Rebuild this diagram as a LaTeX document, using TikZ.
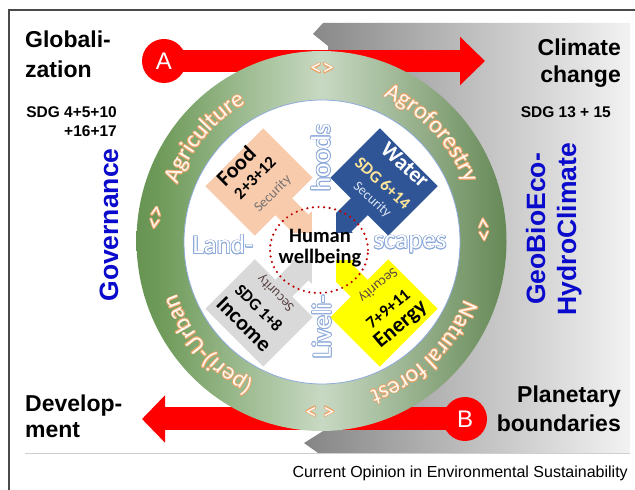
\documentclass[tikz,border=0pt]{standalone}
\usepackage{fontspec}
\usepackage[copies]{contour}
\usetikzlibrary{decorations.text,arrows.meta}
\setmainfont{Liberation Sans}
\newfontfamily\hv{Liberation Sans}
\newfontfamily\cb{Carlito}

\definecolor{arrowred}{HTML}{FF0000}
\definecolor{labelblue}{HTML}{0A0ACC}
\definecolor{ringdark}{HTML}{4A7C36}
\definecolor{ringmidL}{HTML}{6E9A59}
\definecolor{ringlight}{HTML}{C8D9C3}
\definecolor{ringmidR}{HTML}{6A8C5B}
\definecolor{ringdarkR}{HTML}{3A5E2C}
\definecolor{foodc}{HTML}{F8CBAD}
\definecolor{waterc}{HTML}{2F5597}
\definecolor{incomec}{HTML}{D9D9D9}
\definecolor{energyc}{HTML}{FFFF00}
\definecolor{outblue}{HTML}{8EAADB}
\definecolor{ringorange}{HTML}{E9A46A}
\definecolor{ringcream}{HTML}{FFF8EE}
\definecolor{dotred}{HTML}{C00000}
\definecolor{secgray}{HTML}{767171}
\definecolor{secbrown}{HTML}{5B4545}
\definecolor{sdgyellow}{HTML}{FFE699}
\definecolor{seclblue}{HTML}{DAE3F3}
\definecolor{framegray}{HTML}{4A4A4A}
\definecolor{rulegray}{HTML}{CFCFCF}
\definecolor{paneldark}{HTML}{858585}
\definecolor{panelmid}{HTML}{BDBDBD}
\definecolor{panellight}{HTML}{F2F2F2}

\pgfdeclarehorizontalshading{ringshade}{100bp}{color(0bp)=(ringdark); color(12bp)=(ringdark);
  color(28bp)=(ringmidL); color(50bp)=(ringlight); color(74bp)=(ringmidR); color(88bp)=(ringdarkR);
  color(100bp)=(ringdarkR)}

% letters on the green ring: cream with an orange rim
\newcommand\ringfont{\cb\fontsize{24}{24}\selectfont}
\newcommand\ringchar[1]{{\ringfont\color{ringcream}\contourlength{0.7pt}\contour{ringorange}{#1}}}
% hollow blue-rimmed words around the centre
\newcommand\hollow[1]{{\color{white}\contourlength{0.8pt}\contour{outblue}{#1}}}

\tikzset{
  callout/.pic={\path[pic actions] (-35,-41) -- (35,-41) -- (35,-12) -- (58,-12) -- (58,-26)
      -- (84,0) -- (58,26) -- (58,12) -- (35,12) -- (35,41) -- (-35,41) -- cycle;},
  biglabel/.style={font=\hv\bfseries\fontsize{23}{23}\selectfont, inner sep=0},
  sdglabel/.style={font=\hv\bfseries\fontsize{15.5}{15.5}\selectfont, inner sep=0},
  vlabel/.style={font=\hv\bfseries\fontsize{26.5}{26.5}\selectfont, text=labelblue, rotate=90, inner sep=0, anchor=base},
  blk/.style={inner sep=0, anchor=center},
  blkbig/.style={blk, font=\cb\bfseries\fontsize{22}{22}\selectfont},
  blkmid/.style={blk, font=\cb\bfseries\fontsize{17}{17}\selectfont},
  blksec/.style={blk, font=\cb\fontsize{14}{14}\selectfont},
  hollowword/.style={inner sep=0, font=\cb\fontsize{27}{27}\selectfont},
  marker/.style={inner sep=0},
  ringtext/.style 2 args={decorate, decoration={text along path,
      text={|\ringfont\color{#2}|#1}, text align=center}},
  badge/.style={circle, fill=arrowred, minimum size=44pt, inner sep=0, text=white,
      font=\hv\fontsize{24}{24}\selectfont},
}

% one ring word: orange copies around the spot, then the cream word on top
\newcommand\ringword[3]{%
  \foreach \dx/\dy in {0.75/0, -0.75/0, 0/0.75, 0/-0.75, 0.53/0.53, 0.53/-0.53, -0.53/0.53, -0.53/-0.53}{
    \path[ringtext={#1}{ringorange}, shift={(\dx,\dy)}] (321.5,249) ++(#2:154 and 158)
      arc[start angle=#2, end angle=#3, x radius=154, y radius=158];
  }
  \path[ringtext={#1}{ringcream}] (321.5,249) ++(#2:154 and 158)
    arc[start angle=#2, end angle=#3, x radius=154, y radius=158];
}

\begin{document}
\begin{tikzpicture}[x=1pt,y=1pt]
\useasboundingbox (0,0) rectangle (635,490);
\fill[white] (0,0) rectangle (635,490);

% grey panel on the right
\shade[left color=paneldark, right color=panellight, middle color=panelmid]
  (323,467) -- (630,467) -- (630,37) -- (318,37) -- (304,47) -- (328,62) -- (328,444) -- (313,456) -- cycle;

% frame and rule
\draw[framegray, line width=1.3pt] (9,0) -- (9,480) -- (635,480);
\draw[rulegray, line width=0.8pt] (25,37) -- (630,37);

% red arrows A and B
\coordinate (Ac) at (164,429);
\coordinate (Aend) at (485,429);
\draw[arrowred, line width=22pt, -{Triangle[length=25pt,width=47pt]}] (Ac) -- (Aend);
\node[badge] (A) at (Ac) {A};
\coordinate (Bc) at (465,71);
\coordinate (Bend) at (142,71);
\draw[arrowred, line width=23pt, -{Triangle[length=23pt,width=46pt]}] (Bc) -- (Bend);
\node[badge] (B) at (Bc) {B};

% green ring and white inner disc
\shade[shading=ringshade] (321.5,249) ellipse [x radius=185, y radius=190];
\fill[white] (322,248) ellipse [x radius=138, y radius=142];
\draw[outblue, line width=0.8pt] (322,248) ellipse [x radius=138, y radius=142];

% the four security blocks
\pic[fill=foodc, rotate=-45] (food) at (259,308) {callout};
\pic[fill=waterc, rotate=-135] (water) at (384,308) {callout};
\pic[fill=incomec, rotate=45] (income) at (259,177) {callout};
\pic[fill=energyc, rotate=135] (energy) at (384,177) {callout};

% white cross between the block tips
\fill[white] (312,190) rectangle (336,295);
\fill[white] (270,230) rectangle (375,257);

% block texts
\node[blkbig, rotate=45] (foodA) at (236,324) {Food};
\node[blkmid, rotate=45] (foodB) at (255,312) {2+3+12};
\node[blksec, rotate=45, text=secgray] (foodC) at (273,296) {Security};

\node[blkbig, rotate=-42, text=white] (waterA) at (405,325) {Water};
\node[blkmid, rotate=-42, text=sdgyellow] (waterB) at (383,307) {SDG 6+14};
\node[blksec, rotate=-42, text=seclblue] (waterC) at (372,290) {Security};

\node[blksec, rotate=135, text=secbrown] (incomeC) at (276,197) {Security};
\node[blkmid, rotate=-45] (incomeB) at (259,182) {SDG 1+8};
\node[blkbig, rotate=-45] (incomeA) at (244,166) {Income};

\node[blksec, rotate=220, text=secbrown] (energyC) at (378,205) {Security};
\node[blkmid, rotate=40] (energyB) at (388,181) {7+9+11};
\node[blkbig, rotate=40] (energyA) at (401,165) {Energy};

% Land-scapes / Liveli-hoods
\node[hollowword] (land) at (223,245) {\hollow{Land-}};
\node[hollowword] (scapes) at (410,245) {\hollow{scapes}};
\node[hollowword, rotate=90] (hoods) at (321,332) {\hollow{hoods}};
\node[hollowword, rotate=90] (liveli) at (322,163) {\hollow{Liveli-}};

% human wellbeing
\draw[dotred, line width=2.4pt, dash pattern=on 0pt off 5.6pt, line cap=round]
  (319,240) ellipse [x radius=49, y radius=43];
\node[inner sep=0, anchor=base, font=\cb\bfseries\fontsize{20.5}{20.5}\selectfont] (hw1) at (320,247) {Human};
\node[inner sep=0, anchor=base, font=\cb\bfseries\fontsize{20.5}{20.5}\selectfont] (hw2) at (320,226) {wellbeing};

% words along the ring
\ringword{Agriculture}{182}{96}
\ringword{Agroforestry}{88}{0}
\ringword{(peri)-Urban}{266}{178}
\ringword{Natural forest}{358}{268}

\node[marker] (mtop) at (322,420) {\ringchar{<>}};
\node[marker, rotate=82] (mleft) at (157,272) {\ringchar{<>}};
\node[marker, rotate=-86] (mright) at (482,260) {\ringchar{<>}};
\node[marker, rotate=180] (mbot) at (320,80) {\ringchar{< >}};

% outer labels
\node[biglabel, anchor=base west] (glob1) at (25,442) {Globali-};
\node[biglabel, anchor=base west] (glob2) at (25,412) {zation};
\node[sdglabel, anchor=base east] (sdgl1) at (117,372) {SDG 4+5+10};
\node[sdglabel, anchor=base east] (sdgl2) at (117,353) {+16+17};
\node[vlabel] (gov) at (118,265) {Governance};

\node[biglabel, anchor=base east] (clim1) at (621,434) {Climate};
\node[biglabel, anchor=base east] (clim2) at (621,407) {change};
\node[sdglabel, anchor=base east] (sdgr) at (611,372) {SDG 13 + 15};
\node[vlabel] (geo1) at (545,261) {GeoBioEco-};
\node[vlabel] (geo2) at (576,261) {HydroClimate};

\node[biglabel, anchor=base west] (dev1) at (25,78) {Develop-};
\node[biglabel, anchor=base west] (dev2) at (25,52) {ment};
\node[biglabel, anchor=base east] (plan1) at (621,87) {Planetary};
\node[biglabel, anchor=base east] (plan2) at (621,58) {boundaries};

\node[inner sep=0, anchor=base east, font=\hv\fontsize{16}{16}\selectfont] (caption) at (628,12)
  {Current Opinion in Environmental Sustainability};
\end{tikzpicture}
\end{document}
